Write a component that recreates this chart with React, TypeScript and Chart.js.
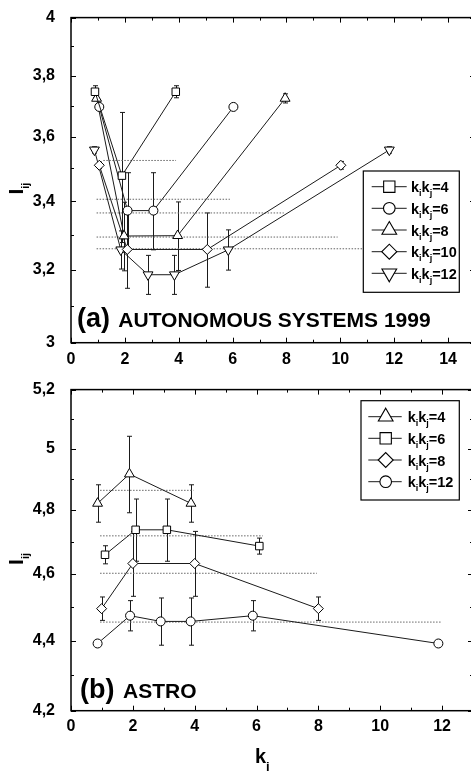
import React, { useEffect, useRef } from 'react';
import { Chart, registerables } from 'chart.js';

Chart.register(...registerables);

const FONT = '"Liberation Sans", Arial, Helvetica, sans-serif';

// ---------------- Panel (a): AUTONOMOUS SYSTEMS 1999 ----------------
const A_X_TICKS = [0, 2, 4, 6, 8, 10, 12, 14];
const A_Y_TICKS = [3, 3.2, 3.4, 3.6, 3.8, 4];
const A_KIKJ = [4, 6, 8, 10, 12];

const A_K_4 = [0.89, 1.89, 3.89];
const A_I_4 = [3.746, 3.478, 3.746];
const A_E_4 = [0.02, 0.2, 0.02];

const A_K_6 = [1.05, 2.1, 3.06, 6.03];
const A_I_6 = [3.696, 3.372, 3.372, 3.696];
const A_E_6 = [0, 0.115, 0.115, 0];

const A_K_8 = [0.95, 1.97, 3.96, 7.95];
const A_I_8 = [3.724, 3.297, 3.298, 3.724];
const A_E_8 = [0, 0.1, 0.1, 0.015];

const A_K_10 = [1.05, 2.09, 5.06, 10.02];
const A_I_10 = [3.51, 3.258, 3.258, 3.51];
const A_E_10 = [0.01, 0.11, 0.107, 0.012];

const A_K_12 = [0.87, 1.85, 2.86, 3.84, 5.84, 11.82];
const A_I_12 = [3.558, 3.257, 3.186, 3.186, 3.257, 3.558];
const A_E_12 = [0.01, 0.055, 0.055, 0.055, 0.058, 0.01];

const A_MEAN = [3.525, 3.406, 3.365, 3.294, 3.26];
const A_MEAN_FROM = [1.2, 0.95, 0.95, 0.95, 0.95];
const A_MEAN_TO = [3.9, 5.9, 7.9, 9.9, 12];

// ---------------- Panel (b): ASTRO ----------------
const B_X_TICKS = [0, 2, 4, 6, 8, 10, 12];
const B_Y_TICKS = [4.2, 4.4, 4.6, 4.8, 5, 5.2];
const B_KIKJ = [4, 6, 8, 12];

const B_K_4 = [0.86, 1.89, 3.88];
const B_I_4 = [4.821, 4.916, 4.821];
const B_E_4 = [0.06, 0.125, 0.06];

const B_K_6 = [1.1, 2.09, 3.1, 6.09];
const B_I_6 = [4.659, 4.737, 4.737, 4.686];
const B_E_6 = [0.028, 0.098, 0.098, 0.025];

const B_K_8 = [0.99, 2.0, 4.0, 8.0];
const B_I_8 = [4.495, 4.632, 4.632, 4.495];
const B_E_8 = [0.035, 0.1, 0.1, 0.035];

const B_K_12 = [0.86, 1.91, 2.9, 3.87, 5.88, 11.88];
const B_I_12 = [4.392, 4.474, 4.457, 4.457, 4.474, 4.392];
const B_E_12 = [0, 0.045, 0.07, 0.07, 0.045, 0];

const B_MEAN = [4.863, 4.718, 4.602, 4.455];
const B_MEAN_FROM = [0.94, 0.94, 0.94, 0.94];
const B_MEAN_TO = [3.96, 6.2, 7.95, 12];

// ---------------- styles ----------------
type Marker = 'rect' | 'circle' | 'triangle' | 'rectRot' | 'triangleDown';
const MARKER_R: Record<Marker, number> = { rect: 5.3, circle: 4.5, triangle: 5.7, rectRot: 5, triangleDown: 5.7 };
const LEGEND_R: Record<Marker, number> = { rect: 8, circle: 5.8, triangle: 8.5, rectRot: 7.5, triangleDown: 8.5 };

interface Series { kikj: number; k: number[]; v: number[]; e: number[]; marker: Marker; }

const A_SERIES: Series[] = [
  { kikj: A_KIKJ[0], k: A_K_4, v: A_I_4, e: A_E_4, marker: 'rect' },
  { kikj: A_KIKJ[1], k: A_K_6, v: A_I_6, e: A_E_6, marker: 'circle' },
  { kikj: A_KIKJ[2], k: A_K_8, v: A_I_8, e: A_E_8, marker: 'triangle' },
  { kikj: A_KIKJ[3], k: A_K_10, v: A_I_10, e: A_E_10, marker: 'rectRot' },
  { kikj: A_KIKJ[4], k: A_K_12, v: A_I_12, e: A_E_12, marker: 'triangleDown' },
];
const B_SERIES: Series[] = [
  { kikj: B_KIKJ[0], k: B_K_4, v: B_I_4, e: B_E_4, marker: 'triangle' },
  { kikj: B_KIKJ[1], k: B_K_6, v: B_I_6, e: B_E_6, marker: 'rect' },
  { kikj: B_KIKJ[2], k: B_K_8, v: B_I_8, e: B_E_8, marker: 'rectRot' },
  { kikj: B_KIKJ[3], k: B_K_12, v: B_I_12, e: B_E_12, marker: 'circle' },
];

interface Panel {
  series: Series[];
  mean: number[]; meanFrom: number[]; meanTo: number[];
  xTicks: number[]; yTicks: number[];
  xMax: number; yMin: number; yMax: number;
  width: number; height: number; padTop: number; xAxisH: number; xPad: number;
  yTitle: { x: number; yc: number };
  label: { tag: string; text: string; x: number; x2: number; y: number };
  legend: { box: number[]; rows: number[]; line: number[]; mx: number; tx: number };
  xTitle?: { x: number; y: number };
}

const PANEL_A: Panel = {
  series: A_SERIES, mean: A_MEAN, meanFrom: A_MEAN_FROM, meanTo: A_MEAN_TO,
  xTicks: A_X_TICKS, yTicks: A_Y_TICKS, xMax: 15, yMin: 3, yMax: 4,
  width: 475, height: 372, padTop: 14, xAxisH: 372 - 342.7, xPad: -1,
  yTitle: { x: 23, yc: 191.7 },
  label: { tag: '(a)', text: 'AUTONOMOUS SYSTEMS 1999', x: 77, x2: 118.3, y: 326.7 },
  legend: { box: [363.3, 171, 459.3, 292.3], rows: [186.7, 208.3, 230, 251.7, 273.3], line: [371.7, 406.7], mx: 389.3, tx: 411 },
};
const PANEL_B: Panel = {
  series: B_SERIES, mean: B_MEAN, meanFrom: B_MEAN_FROM, meanTo: B_MEAN_TO,
  xTicks: B_X_TICKS, yTicks: B_Y_TICKS, xMax: 13, yMin: 4.2, yMax: 5.2,
  width: 473, height: 402, padTop: 9.7, xAxisH: 402 - 338.7, xPad: -2,
  yTitle: { x: 23, yc: 190 },
  label: { tag: '(b)', text: 'ASTRO', x: 80, x2: 123, y: 325.7 },
  legend: { box: [361, 28.7, 459.3, 128], rows: [44.7, 66.3, 88, 109.7], line: [368.3, 401.7], mx: 385.7, tx: 407.7 },
  xTitle: { x: 255, y: 390.7 },
};

function drawMarker(ctx: CanvasRenderingContext2D, style: Marker, x: number, y: number, r: number) {
  ctx.beginPath();
  if (style === 'circle') ctx.arc(x, y, r, 0, Math.PI * 2);
  else if (style === 'rect') { const s = r * Math.SQRT1_2; ctx.rect(x - s, y - s, 2 * s, 2 * s); }
  else if (style === 'rectRot') { ctx.moveTo(x - r, y); ctx.lineTo(x, y - r); ctx.lineTo(x + r, y); ctx.lineTo(x, y + r); ctx.closePath(); }
  else if (style === 'triangle') { ctx.moveTo(x, y - r); ctx.lineTo(x + r * 0.866, y + r * 0.5); ctx.lineTo(x - r * 0.866, y + r * 0.5); ctx.closePath(); }
  else { ctx.moveTo(x, y + r); ctx.lineTo(x + r * 0.866, y - r * 0.5); ctx.lineTo(x - r * 0.866, y - r * 0.5); ctx.closePath(); }
  ctx.fillStyle = '#fff'; ctx.fill();
  ctx.strokeStyle = '#000'; ctx.lineWidth = 1.1; ctx.stroke();
}

function drawSub(ctx: CanvasRenderingContext2D, parts: [string, string][], x: number, y: number, size: number, subSize: number, subDy: number) {
  let cx = x;
  ctx.textBaseline = 'alphabetic'; ctx.textAlign = 'left'; ctx.fillStyle = '#000';
  for (const [t, s] of parts) {
    ctx.font = `bold ${size}px ${FONT}`;
    ctx.fillText(t, cx, y); cx += ctx.measureText(t).width;
    if (s) {
      ctx.font = `bold ${subSize}px ${FONT}`;
      ctx.fillText(s, cx, y + subDy); cx += ctx.measureText(s).width;
    }
  }
}

function fmt(v: number) {
  const r = Math.round(v * 10) / 10;
  return Number.isInteger(r) ? String(r) : r.toFixed(1).replace('.', ',');
}

function makePlugin(p: Panel) {
  return {
    id: 'decor',
    beforeDatasetsDraw(chart: any) {
      const ctx: CanvasRenderingContext2D = chart.ctx;
      const xs = chart.scales.x, ys = chart.scales.y;
      ctx.save();
      ctx.strokeStyle = '#1a1a1a'; ctx.lineWidth = 1;
      for (const s of p.series) {
        s.k.forEach((k, i) => {
          const e = s.e[i];
          if (!e) return;
          const x = Math.round(xs.getPixelForValue(k)) + 0.5;
          const y1 = ys.getPixelForValue(s.v[i] + e), y2 = ys.getPixelForValue(s.v[i] - e);
          ctx.beginPath();
          ctx.moveTo(x, y1); ctx.lineTo(x, y2);
          ctx.moveTo(x - 2.5, y1); ctx.lineTo(x + 2.5, y1);
          ctx.moveTo(x - 2.5, y2); ctx.lineTo(x + 2.5, y2);
          ctx.stroke();
        });
      }
      ctx.restore();
    },
    afterDraw(chart: any) {
      const ctx: CanvasRenderingContext2D = chart.ctx;
      const a = chart.chartArea;
      const xs = chart.scales.x, ys = chart.scales.y;
      ctx.save();
      // frame
      ctx.strokeStyle = '#000'; ctx.lineWidth = 1.5;
      ctx.strokeRect(a.left, a.top, a.right - a.left, a.bottom - a.top);
      // inner ticks
      ctx.lineWidth = 1;
      ctx.beginPath();
      for (let v = 0; v <= p.xMax; v += 1) {
        const x = Math.round(xs.getPixelForValue(v)) + 0.5;
        const L = v % 2 === 0 ? 5 : 3;
        ctx.moveTo(x, a.bottom); ctx.lineTo(x, a.bottom - L);
        ctx.moveTo(x, a.top); ctx.lineTo(x, a.top + L);
      }
      const yt = p.yTicks;
      const all: [number, number][] = [];
      yt.forEach((v, i) => { all.push([v, 5]); if (i < yt.length - 1) all.push([(v + yt[i + 1]) / 2, 3]); });
      for (const [v, L] of all) {
        const y = Math.round(ys.getPixelForValue(v)) + 0.5;
        ctx.moveTo(a.left, y); ctx.lineTo(a.left + L, y);
        ctx.moveTo(a.right, y); ctx.lineTo(a.right - L, y);
      }
      ctx.stroke();

      // legend
      const [bx1, by1, bx2, by2] = p.legend.box;
      ctx.fillStyle = '#fff';
      ctx.fillRect(bx1, by1, bx2 - bx1, by2 - by1);
      ctx.strokeStyle = '#000'; ctx.lineWidth = 1.2;
      ctx.strokeRect(bx1, by1, bx2 - bx1, by2 - by1);
      p.series.forEach((s, i) => {
        const y = p.legend.rows[i];
        ctx.strokeStyle = '#1a1a1a'; ctx.lineWidth = 1;
        ctx.beginPath(); ctx.moveTo(p.legend.line[0], y); ctx.lineTo(p.legend.line[1], y); ctx.stroke();
        drawMarker(ctx, s.marker, p.legend.mx, y, LEGEND_R[s.marker]);
        drawSub(ctx, [['k', 'i'], ['k', 'j'], ['=' + s.kikj, '']], p.legend.tx, y + 5.5, 14.5, 9, 4);
      });

      // y title (rotated)
      ctx.save();
      ctx.translate(p.yTitle.x, p.yTitle.yc + 2.9);
      ctx.rotate(-Math.PI / 2);
      drawSub(ctx, [['I', 'ij']], 0, 0, 21, 11, 6);
      ctx.restore();

      // panel label
      ctx.fillStyle = '#000'; ctx.textAlign = 'left'; ctx.textBaseline = 'alphabetic';
      ctx.font = `bold 27px ${FONT}`;
      ctx.fillText(p.label.tag, p.label.x, p.label.y);
      ctx.font = `bold 21px ${FONT}`;
      ctx.fillText(p.label.text, p.label.x2, p.label.y);

      if (p.xTitle) drawSub(ctx, [['k', 'i']], p.xTitle.x, p.xTitle.y, 20, 13, 8);
      ctx.restore();
    },
  };
}

function buildConfig(p: Panel): any {
  const datasets: any[] = [];
  p.mean.forEach((m, i) => {
    datasets.push({
      data: [{ x: p.meanFrom[i], y: m }, { x: p.meanTo[i], y: m }],
      borderColor: '#666', borderWidth: 1, borderDash: [1.5, 1.5], pointRadius: 0, order: 10,
    });
  });
  p.series.forEach((s) => {
    const isDown = s.marker === 'triangleDown';
    datasets.push({
      label: 'kikj=' + s.kikj,
      data: s.k.map((k, i) => ({ x: k, y: s.v[i] })),
      borderColor: '#1a1a1a', borderWidth: 1, tension: 0,
      pointStyle: isDown ? 'triangle' : s.marker,
      pointRotation: isDown ? 180 : 0,
      pointRadius: MARKER_R[s.marker],
      pointBackgroundColor: '#fff', pointBorderColor: '#000', pointBorderWidth: 1,
      order: 1,
    });
  });
  const tickFont = { family: FONT, size: 16, weight: 'bold' };
  return {
    type: 'line',
    data: { datasets },
    options: {
      responsive: false, animation: false, devicePixelRatio: 1, events: [],
      layout: { padding: { top: p.padTop, left: 0, right: 0, bottom: 0 }, autoPadding: false },
      plugins: { legend: { display: false }, tooltip: { enabled: false } },
      scales: {
        x: {
          type: 'linear', min: 0, max: p.xMax,
          grid: { display: false }, border: { display: false },
          afterBuildTicks: (s: any) => { s.ticks = p.xTicks.map((v) => ({ value: v })); },
          afterFit: (s: any) => { s.height = p.xAxisH; },
          ticks: { font: tickFont, color: '#000', padding: p.xPad, maxRotation: 0, autoSkip: false, callback: (v: any) => String(v) },
        },
        y: {
          type: 'logarithmic', min: p.yMin, max: p.yMax,
          grid: { display: false }, border: { display: false },
          afterBuildTicks: (s: any) => { s.ticks = p.yTicks.map((v) => ({ value: v })); },
          afterFit: (s: any) => { s.width = 71; },
          ticks: { font: tickFont, color: '#000', padding: 8, autoSkip: false, callback: (v: any) => fmt(Number(v)) },
        },
      },
    },
    plugins: [makePlugin(p)],
  };
}

export default function App() {
  const refA = useRef<HTMLCanvasElement>(null);
  const refB = useRef<HTMLCanvasElement>(null);
  useEffect(() => {
    const a = new Chart(refA.current as HTMLCanvasElement, buildConfig(PANEL_A));
    const b = new Chart(refB.current as HTMLCanvasElement, buildConfig(PANEL_B));
    return () => { a.destroy(); b.destroy(); };
  }, []);
  return (
    <div style={{ position: 'absolute', left: 0, top: 0, width: 471, height: 774, overflow: 'hidden', background: '#fff' }}>
      <canvas ref={refA} width={PANEL_A.width} height={PANEL_A.height} style={{ position: 'absolute', left: 0, top: 0 }} />
      <canvas ref={refB} width={PANEL_B.width} height={PANEL_B.height} style={{ position: 'absolute', left: 0, top: 372 }} />
    </div>
  );
}
